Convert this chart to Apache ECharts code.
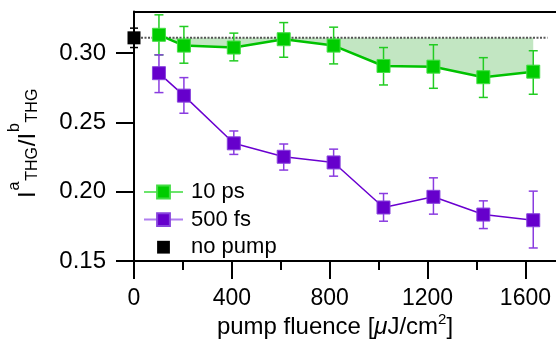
<!DOCTYPE html>
<html><head><meta charset="utf-8">
<script src="https://cdn.jsdelivr.net/npm/echarts@6/dist/echarts.min.js"></script>
<style>html,body{margin:0;padding:0;background:#fff}#c{width:556px;height:352px}</style>
</head><body><div id="c"></div><script>
// ---- data ----
const fluence = [102, 204, 408, 612, 816, 1020, 1224, 1428, 1632];
const ps10   = [0.3132, 0.3054, 0.3040, 0.3100, 0.3054, 0.2907, 0.2902, 0.2826, 0.2866];
const ps10Lo = [0.2987, 0.2927, 0.2944, 0.2970, 0.2922, 0.2770, 0.2746, 0.2680, 0.2703];
const ps10Hi = [0.3276, 0.3192, 0.3144, 0.3220, 0.3187, 0.3040, 0.3060, 0.2967, 0.3017];
const fs500   = [0.2855, 0.2693, 0.2349, 0.2252, 0.2211, 0.1886, 0.1963, 0.1835, 0.1794];
const fs500Lo = [0.2715, 0.2566, 0.2269, 0.2156, 0.2112, 0.1787, 0.1838, 0.1734, 0.1594];
const fs500Hi = [0.2987, 0.2823, 0.2438, 0.2344, 0.2307, 0.1987, 0.2100, 0.1934, 0.2004];
const noPumpX = [0];
const noPumpY = [0.311];
const noPumpLo = [0.304];
const noPumpHi = [0.318];
const refLevel = 0.311;
const refLineX = [0, 1690];
const xTicks = [0, 400, 800, 1200, 1600];
const xMinorTicks = [200, 600, 1000, 1400];
const yTicks = [0.15, 0.20, 0.25, 0.30];
const seriesNames = ['10 ps', '500 fs', 'no pump'];

// ---- styles ----
const FONT = '"Liberation Sans", Arial, Helvetica, sans-serif';
const GREEN = '#00cc00', GREEN_LINE = '#00c200', GREEN_ERR = '#22cc22';
const PURPLE = '#6600cc', PURPLE_LINE = '#6a00d0', PURPLE_ERR = '#8a3ce0';

function errRender(color, cap, lw) {
  return function (params, api) {
    const x = api.value(0), lo = api.value(1), hi = api.value(2);
    const p1 = api.coord([x, lo]), p2 = api.coord([x, hi]);
    const st = { stroke: color, lineWidth: lw };
    return { type: 'group', children: [
      { type: 'line', shape: { x1: p1[0], y1: p1[1], x2: p2[0], y2: p2[1] }, style: st },
      { type: 'line', shape: { x1: p1[0] - cap, y1: p1[1], x2: p1[0] + cap, y2: p1[1] }, style: st },
      { type: 'line', shape: { x1: p2[0] - cap, y1: p2[1], x2: p2[0] + cap, y2: p2[1] }, style: st }
    ]};
  };
}
function fillRender(params, api) {
  const pts = fluence.map((x, i) => api.coord([x, ps10[i]]));
  pts.push(api.coord([fluence[fluence.length - 1], refLevel]));
  pts.push(api.coord([fluence[0], refLevel]));
  return { type: 'polygon', shape: { points: pts }, style: { fill: '#c2e6c2', stroke: null } };
}

// ---- y title pieces (rotated) ----
const meas = document.createElement('canvas').getContext('2d');
function tw(t, s) { meas.font = s + 'px ' + FONT; return meas.measureText(t).width; }
const yPieces = [
  { t: 'I', s: 24, b: 0 }, { t: 'a', s: 16, b: -17 }, { t: 'THG', s: 16, b: 1 },
  { t: '/I', s: 24, b: 0 }, { t: 'b', s: 16, b: -17 }, { t: 'THG', s: 16, b: 1 }
];
let cx = 0;
const yChildren = yPieces.map(p => {
  const el = { type: 'text', x: cx, y: p.b - 0.3465 * p.s,
    style: { text: p.t, fontSize: p.s, fontFamily: FONT, fill: '#000', align: 'left', verticalAlign: 'middle' } };
  cx += tw(p.t, p.s) + 0.8;
  return el;
});

const chart = echarts.init(document.getElementById('c'), null, { renderer: 'canvas' });
const xBase = { type: 'value', min: 0, max: 1725, splitLine: { show: false } };
chart.setOption({
  animation: false,
  backgroundColor: '#fff',
  grid: { left: 134, right: 0, top: 11.5, bottom: 91, containLabel: false },
  xAxis: [
    Object.assign({}, xBase, {
      position: 'bottom',
      axisLine: { show: true, lineStyle: { color: '#000', width: 2 } },
      axisTick: { show: true, length: 18, customValues: xTicks, lineStyle: { color: '#000', width: 2 } },
      axisLabel: { customValues: xTicks, fontSize: 23, fontFamily: FONT, color: '#000', margin: 26,
        formatter: v => String(v) }
    }),
    Object.assign({}, xBase, {
      position: 'bottom', offset: 0,
      axisLine: { show: false },
      axisTick: { show: true, length: 9, customValues: xMinorTicks, lineStyle: { color: '#000', width: 2 } },
      axisLabel: { show: false }
    }),
    Object.assign({}, xBase, {
      position: 'top', offset: 0,
      axisLine: { show: true, lineStyle: { color: '#000', width: 2 } },
      axisTick: { show: false }, axisLabel: { show: false }
    })
  ],
  yAxis: {
    type: 'value', min: 0.15, max: 0.33, splitLine: { show: false },
    axisLine: { show: true, lineStyle: { color: '#000', width: 2 } },
    axisTick: { show: true, length: 18, customValues: yTicks, lineStyle: { color: '#000', width: 2 } },
    axisLabel: { customValues: yTicks, fontSize: 24, fontFamily: FONT, color: '#000', margin: 28,
      formatter: v => v.toFixed(2) }
  },
  legend: {
    orient: 'vertical', left: 143, top: 181, padding: 0, itemWidth: 39, itemHeight: 16, itemGap: 5.6,
    textStyle: { fontSize: 22, fontFamily: FONT, color: '#000', lineHeight: 16, padding: [0, 0, 0, 3] },
    data: [
      { name: seriesNames[0], lineStyle: { color: '#6ce46c', width: 2 } },
      { name: seriesNames[1], lineStyle: { color: '#b07ef0', width: 2 } },
      { name: seriesNames[2], lineStyle: { opacity: 0, width: 0 } }
    ],
    selectedMode: false
  },
  series: [
    { type: 'custom', name: 'fill', renderItem: fillRender, data: [[fluence[0], refLevel]], z: 1, silent: true },
    { type: 'line', name: 'ref', data: refLineX.map(x => [x, refLevel]), symbol: 'none', z: 2,
      lineStyle: { color: '#555', width: 2, type: [2, 1.5] }, silent: true },
    { type: 'custom', name: 'e10', renderItem: errRender(GREEN_ERR, 4.5, 1.5), z: 3,
      data: fluence.map((x, i) => [x, ps10Lo[i], ps10Hi[i]]), encode: { x: 0, y: [1, 2] } },
    { type: 'line', name: seriesNames[0], data: fluence.map((x, i) => [x, ps10[i]]), z: 4,
      symbol: 'rect', symbolSize: 13,
      itemStyle: { color: GREEN, borderColor: '#44dd44', borderWidth: 1 },
      lineStyle: { color: GREEN_LINE, width: 2.5 } },
    { type: 'custom', name: 'e500', renderItem: errRender(PURPLE_ERR, 4.5, 1.5), z: 5,
      data: fluence.map((x, i) => [x, fs500Lo[i], fs500Hi[i]]), encode: { x: 0, y: [1, 2] } },
    { type: 'line', name: seriesNames[1], data: fluence.map((x, i) => [x, fs500[i]]), z: 6,
      symbol: 'rect', symbolSize: 13,
      itemStyle: { color: PURPLE, borderColor: '#8844dd', borderWidth: 1 },
      lineStyle: { color: PURPLE_LINE, width: 1.5 } },
    { type: 'custom', name: 'enp', renderItem: errRender('#000', 4, 1.5), z: 7,
      data: noPumpX.map((x, i) => [x, noPumpLo[i], noPumpHi[i]]), encode: { x: 0, y: [1, 2] } },
    { type: 'line', name: seriesNames[2], data: noPumpX.map((x, i) => [x, noPumpY[i]]), z: 8,
      symbol: 'rect', symbolSize: 13, itemStyle: { color: '#000' },
      lineStyle: { width: 0, opacity: 0 } }
  ],
  graphic: [
    { type: 'group', x: 37, y: 198, rotation: Math.PI / 2, children: yChildren },
    { type: 'text', x: 335, y: 327,
      style: { text: '{a|pump fluence [}{mu|μ}{a|J/cm}{sup|2}{a|]}', align: 'center', verticalAlign: 'middle',
        rich: {
          a: { fontSize: 24, fontFamily: FONT, fill: '#000', color: '#000', lineHeight: 30, verticalAlign: 'middle' },
          mu: { fontSize: 24, fontFamily: FONT, fontStyle: 'italic', fill: '#000', color: '#000', lineHeight: 30, verticalAlign: 'middle' },
          sup: { fontSize: 15, fontFamily: FONT, fill: '#000', color: '#000', lineHeight: 15, verticalAlign: 'top' }
        } } }
  ]
});
</script></body></html>
